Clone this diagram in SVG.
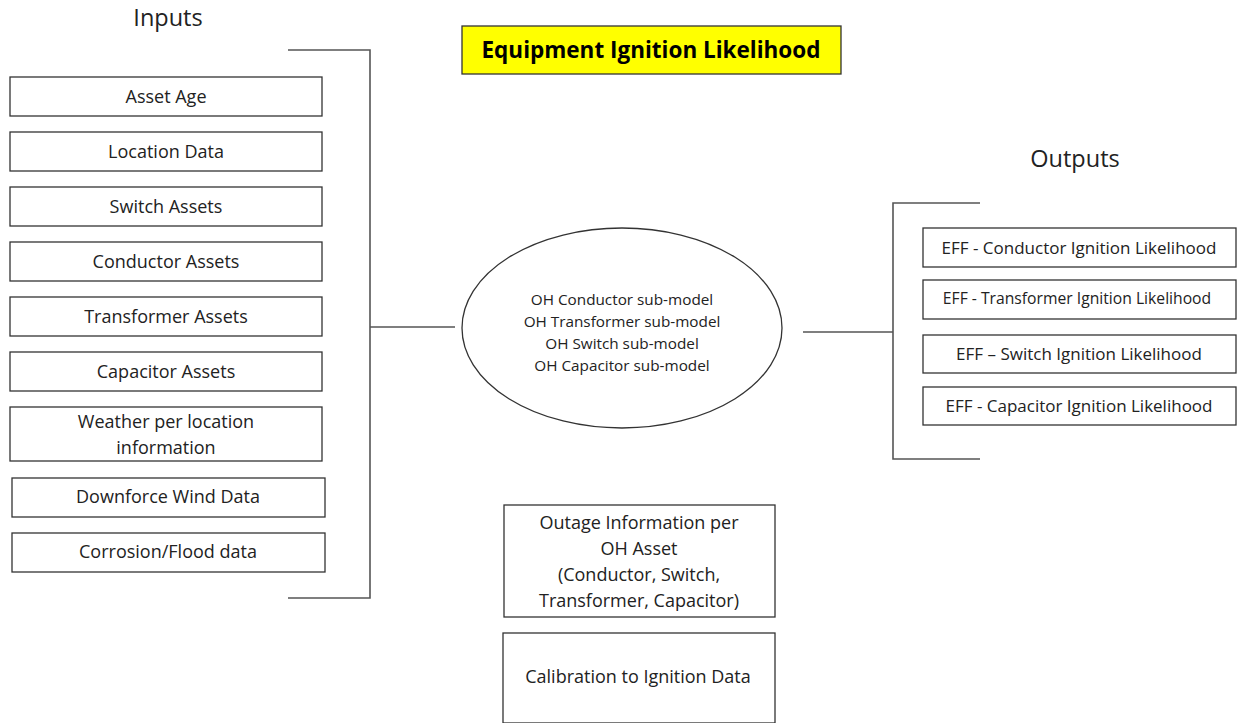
<svg xmlns="http://www.w3.org/2000/svg" width="1237" height="723" viewBox="0 0 1237 723">
<style>
text{font-family:"Open Sans","Liberation Sans",sans-serif;fill:#222;text-anchor:middle}
.box{fill:#fff;stroke:#333;stroke-width:1.3}
.t{font-size:18px}
.o{font-size:17px}
.s{font-size:15.3px}
.h{font-size:23.5px}
.ln{fill:none;stroke:#555;stroke-width:1.6}
</style>
<rect width="1237" height="723" fill="#fff"/>
<text class="h" x="168" y="26">Inputs</text>
<text class="h" x="1075" y="167">Outputs</text>
<g id="title"><rect x="462" y="26" width="379" height="48" fill="#ffff00" stroke="#333" stroke-width="1.3"/><text x="651" y="58" style="font-size:22.5px;font-weight:bold;fill:#000">Equipment Ignition Likelihood</text></g>
<g id="connectors">
<polyline class="ln" points="288,50 370,50 370,598 288,598"/>
<line class="ln" x1="370" y1="327" x2="455" y2="327"/>
<line class="ln" x1="803" y1="332" x2="893" y2="332"/>
<polyline class="ln" points="980,203 893,203 893,459 980,459"/>
</g>
<g id="in1"><rect class="box" x="10" y="77" width="312" height="39"/><text class="t" x="166" y="103">Asset Age</text></g>
<g id="in2"><rect class="box" x="10" y="132" width="312" height="39"/><text class="t" x="166" y="158">Location Data</text></g>
<g id="in3"><rect class="box" x="10" y="187" width="312" height="39"/><text class="t" x="166" y="213">Switch Assets</text></g>
<g id="in4"><rect class="box" x="10" y="242" width="312" height="39"/><text class="t" x="166" y="268">Conductor Assets</text></g>
<g id="in5"><rect class="box" x="10" y="297" width="312" height="39"/><text class="t" x="166" y="323">Transformer Assets</text></g>
<g id="in6"><rect class="box" x="10" y="352" width="312" height="39"/><text class="t" x="166" y="378">Capacitor Assets</text></g>
<g id="in7"><rect class="box" x="10" y="407" width="312" height="54"/><text class="t" x="166" y="428">Weather per location</text><text class="t" x="166" y="454">information</text></g>
<g id="in8"><rect class="box" x="12" y="478" width="313" height="39"/><text class="t" x="168" y="503">Downforce Wind Data</text></g>
<g id="in9"><rect class="box" x="12" y="533" width="313" height="39"/><text class="t" x="168" y="558">Corrosion/Flood data</text></g>
<g id="model"><ellipse cx="622" cy="328" rx="160" ry="100" fill="#fff" stroke="#333" stroke-width="1.3"/>
<text class="s" x="622" y="305">OH Conductor sub-model</text>
<text class="s" x="622" y="327">OH Transformer sub-model</text>
<text class="s" x="622" y="349">OH Switch sub-model</text>
<text class="s" x="622" y="371">OH Capacitor sub-model</text></g>
<g id="out1"><rect class="box" x="923" y="228" width="313" height="39"/><text class="o" x="1079" y="254">EFF - Conductor Ignition Likelihood</text></g>
<g id="out2"><rect class="box" x="923" y="280" width="313" height="39"/><text x="1077" y="304" style="font-size:15.7px">EFF - Transformer Ignition Likelihood</text></g>
<g id="out3"><rect class="box" x="923" y="335" width="313" height="38"/><text class="o" x="1079" y="360">EFF – Switch Ignition Likelihood</text></g>
<g id="out4"><rect class="box" x="923" y="387" width="313" height="38"/><text class="o" x="1079" y="412">EFF - Capacitor Ignition Likelihood</text></g>
<g id="outage"><rect class="box" x="504" y="505" width="271" height="112"/>
<text class="t" x="639" y="529">Outage Information per</text>
<text class="t" x="639" y="555">OH Asset</text>
<text class="t" x="639" y="581">(Conductor, Switch,</text>
<text class="t" x="639" y="607">Transformer, Capacitor)</text></g>
<g id="calib"><rect class="box" x="503" y="633" width="272" height="90"/><text class="t" x="638" y="683">Calibration to Ignition Data</text></g>
</svg>
